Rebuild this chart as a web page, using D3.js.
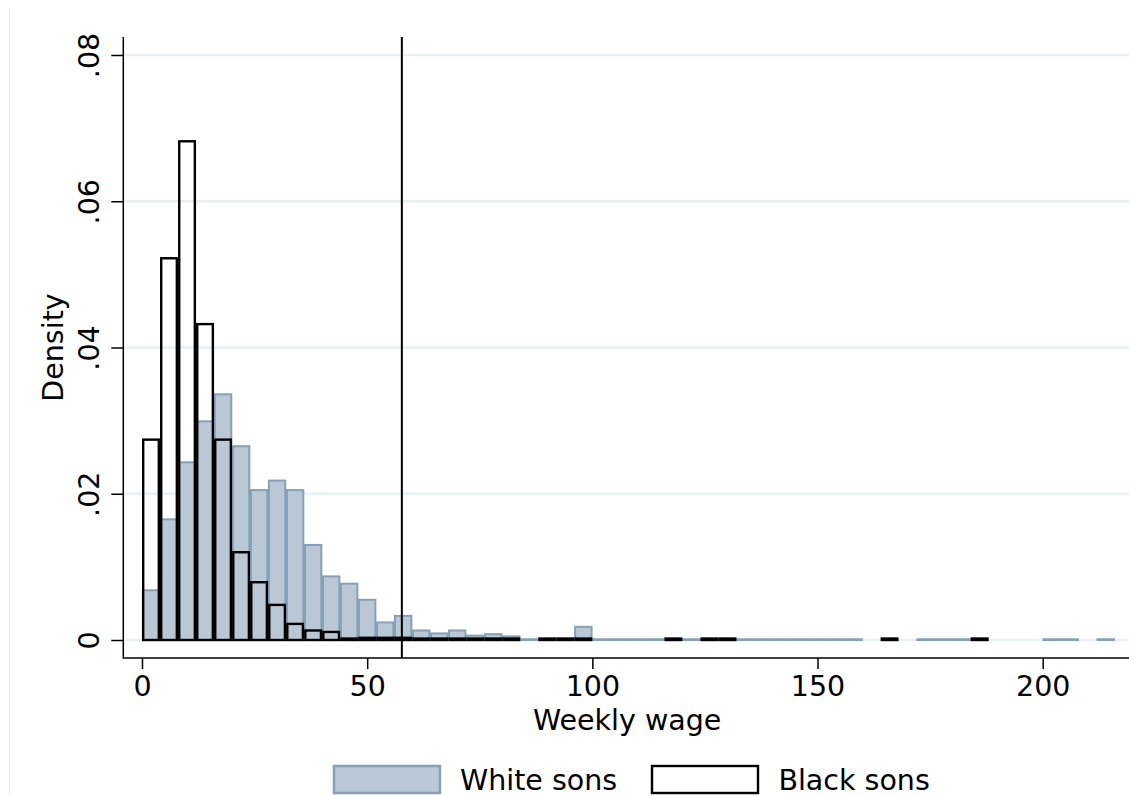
<!DOCTYPE html>
<html>
<head>
<meta charset="utf-8">
<script src="https://cdn.jsdelivr.net/npm/d3@7"></script>
<style>
  html, body { margin: 0; padding: 0; background: #ffffff; }
  svg { display: block; }
  text { font-family: "DejaVu Sans", sans-serif; fill: #000; }
</style>
</head>
<body>
<svg id="chart" width="1129" height="796"></svg>
<script>
// ---------- data ----------
const binWidth = 4;
// density per 4-unit bin, starting at 0 (0 = empty bin, not drawn)
const whiteDensity = [
  0.0068, 0.0165, 0.0243, 0.0299, 0.0336, 0.0265, 0.0205, 0.0218, 0.0205, 0.0130,
  0.0087, 0.0077, 0.0055, 0.0024, 0.0033, 0.0013, 0.0009, 0.0013, 0.0006, 0.0008,
  0.0005, 0.0001, 0.0001, 0.0001, 0.0018, 0.0001, 0.0001, 0.0001, 0.0001, 0.0001,
  0.0001, 0.0001, 0.0001, 0.0001, 0.0001, 0.0001, 0.0001, 0.0001, 0.0001, 0.0001,
  0, 0, 0, 0.0001, 0.0001, 0.0001, 0.0001, 0, 0, 0,
  0.0001, 0.0001, 0, 0.0001
];
const blackDensity = [
  0.0274, 0.0522, 0.0682, 0.0432, 0.0274, 0.0120, 0.0079, 0.0048, 0.0022, 0.0013,
  0.0011, 0.0002, 0.0003, 0.0003, 0.0003, 0.0002, 0.0002, 0.0002, 0.0002, 0.0002,
  0.0002, 0, 0.0002, 0.0002, 0.0002, 0, 0, 0, 0, 0.0002,
  0, 0.0002, 0.0002, 0, 0, 0, 0, 0, 0, 0,
  0, 0.0002, 0, 0, 0, 0, 0.0002
];
const cutoff = 57.7;          // vertical reference line (weekly wage)
const xTicks = [0, 50, 100, 150, 200];
const yTicks = [0, 0.02, 0.04, 0.06, 0.08];
const yTickLabels = ["0", ".02", ".04", ".06", ".08"];
const seriesNames = ["White sons", "Black sons"];
const xTitle = "Weekly wage";
const yTitle = "Density";

// ---------- layout ----------
const svg = d3.select("#chart");
const plotLeft = 123.3, plotRight = 1129, plotTop = 37, plotBottom = 658;
const x = d3.scaleLinear().domain([0, 200]).range([142, 1042.7]);
const y = d3.scaleLinear().domain([0, 0.08]).range([640, 55]);

const whiteFill = "#b9c8d4", whiteStroke = "#86a0b7";
const gridColor = "#e8f0f2";
const fontSize = 28.5;

// faint outer border line on the left
svg.append("line").attr("x1", 9.5).attr("x2", 9.5).attr("y1", 8).attr("y2", 796)
  .attr("stroke", "#eeeeee").attr("stroke-width", 1);

// gridlines
svg.append("g").selectAll("line").data(yTicks).join("line")
  .attr("x1", plotLeft + 1).attr("x2", plotRight)
  .attr("y1", d => y(d)).attr("y2", d => y(d))
  .attr("stroke", gridColor).attr("stroke-width", 2.5);

// white sons bars
const whiteBins = whiteDensity.map((v, i) => ({x0: i * binWidth, x1: (i + 1) * binWidth, v}))
  .filter(d => d.v > 0);
svg.append("g").selectAll("rect").data(whiteBins).join("rect")
  .attr("x", d => x(d.x0) + 0.8)
  .attr("width", d => x(d.x1) - x(d.x0) - 1.6)
  .attr("y", d => y(d.v))
  .attr("height", d => y(0) - y(d.v))
  .attr("fill", whiteFill)
  .attr("stroke", whiteStroke)
  .attr("stroke-width", 2);

// black sons bars (outline only)
const blackBins = blackDensity.map((v, i) => ({x0: i * binWidth, x1: (i + 1) * binWidth, v}))
  .filter(d => d.v > 0);
svg.append("g").selectAll("rect").data(blackBins).join("rect")
  .attr("x", d => x(d.x0) + 1.2)
  .attr("width", d => x(d.x1) - x(d.x0) - 2.4)
  .attr("y", d => y(d.v))
  .attr("height", d => y(0) - y(d.v))
  .attr("fill", "none")
  .attr("stroke", "#000")
  .attr("stroke-width", 2.4);

// vertical reference line
svg.append("line")
  .attr("x1", x(cutoff)).attr("x2", x(cutoff))
  .attr("y1", plotTop).attr("y2", plotBottom)
  .attr("stroke", "#000").attr("stroke-width", 2);

// axes lines
svg.append("line").attr("x1", plotLeft).attr("x2", plotLeft)
  .attr("y1", plotTop).attr("y2", plotBottom + 0.7)
  .attr("stroke", "#000").attr("stroke-width", 1.5);
svg.append("line").attr("x1", plotLeft).attr("x2", plotRight)
  .attr("y1", plotBottom).attr("y2", plotBottom)
  .attr("stroke", "#000").attr("stroke-width", 1.5);

// x axis ticks via d3 axis
const xAxis = svg.append("g").attr("transform", `translate(0,${plotBottom})`)
  .call(d3.axisBottom(x).tickValues(xTicks).tickSize(11).tickPadding(8).tickFormat(d3.format("d")));
xAxis.select(".domain").remove();
xAxis.selectAll(".tick line").attr("stroke", "#000").attr("stroke-width", 1.5);
xAxis.selectAll(".tick text")
  .attr("font-family", "DejaVu Sans").attr("font-size", fontSize)
  .attr("dy", null).attr("y", 38).attr("fill", "#000");

// y axis ticks via d3 axis
const yAxis = svg.append("g").attr("transform", `translate(${plotLeft},0)`)
  .call(d3.axisLeft(y).tickValues(yTicks).tickSize(12)
    .tickFormat((d, i) => yTickLabels[i]));
yAxis.select(".domain").remove();
yAxis.selectAll(".tick line").attr("stroke", "#000").attr("stroke-width", 1.5);
yAxis.selectAll(".tick text")
  .attr("font-family", "DejaVu Sans").attr("font-size", fontSize)
  .attr("x", null).attr("dy", null).attr("fill", "#000")
  .attr("text-anchor", "middle")
  .attr("transform", "translate(-24.8,0) rotate(-90)");

// axis titles
svg.append("text").attr("x", (plotLeft + plotRight) / 2 + 1).attr("y", 730)
  .attr("text-anchor", "middle").attr("font-size", fontSize).text(xTitle);
svg.append("text")
  .attr("transform", `translate(63.3,${(plotTop + plotBottom) / 2}) rotate(-90)`)
  .attr("text-anchor", "middle").attr("font-size", fontSize).text(yTitle);

// legend
const legend = svg.append("g");
const legendItems = [
  {name: seriesNames[0], rx: 333, tx: 460, fill: whiteFill, stroke: whiteStroke, sw: 2.5},
  {name: seriesNames[1], rx: 651, tx: 778.4, fill: "#fff", stroke: "#000", sw: 2.4}
];
legendItems.forEach(d => {
  legend.append("rect").attr("x", d.rx + 1).attr("y", 766).attr("width", 106).attr("height", 27)
    .attr("fill", d.fill).attr("stroke", d.stroke).attr("stroke-width", d.sw);
  legend.append("text").attr("x", d.tx).attr("y", 790).attr("font-size", fontSize).text(d.name);
});
</script>
</body>
</html>
